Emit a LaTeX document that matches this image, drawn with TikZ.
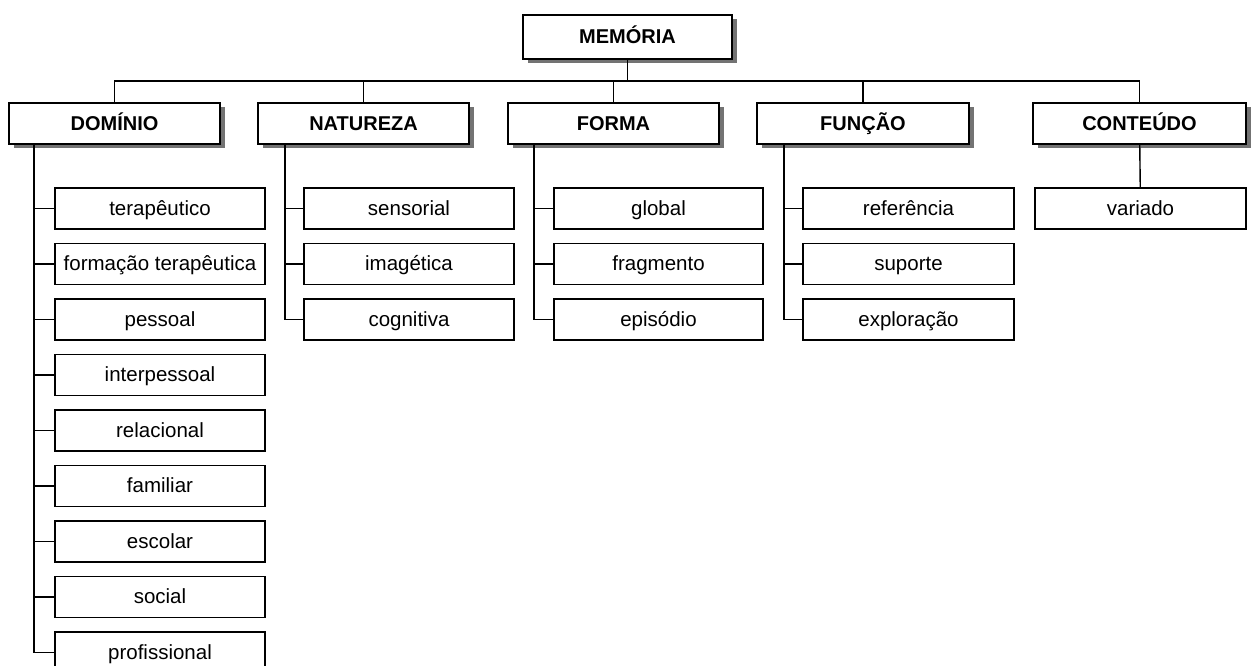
\documentclass[tikz,border=0pt]{standalone}
\usepackage{fontspec}
\setmainfont{Liberation Sans}
\usetikzlibrary{fit,shadows}

\tikzset{
    head/.style={draw, line width=1.4pt, fill=white, inner sep=0pt,
        drop shadow={shadow xshift=5pt, shadow yshift=-4pt, fill=black!55, opacity=1}},
    item/.style={draw, line width=1.4pt, fill=white, inner sep=0pt},
    htext/.style={font=\bfseries\fontsize{20}{24}\selectfont, text height=17pt, text depth=4pt},
    itext/.style={font=\fontsize{20.5}{24}\selectfont, text height=17pt, text depth=4pt},
    link/.style={line width=1.4pt}
}

\begin{document}
\begin{tikzpicture}[x=1pt, y=-1pt]
    \useasboundingbox (0,0) rectangle (1253,665);

    \node[head, fit={(523,15) (732,59)}, label={[htext]center:{MEMÓRIA}}] (mem) {};

    \node[head, fit={(9,103) (220,144)}, label={[htext]center:{DOMÍNIO}}] (dom) {};
    \node[head, fit={(258,103) (469,144)}, label={[htext]center:{NATUREZA}}] (nat) {};
    \node[head, fit={(508,103) (719,144)}, label={[htext]center:{FORMA}}] (for) {};
    \node[head, fit={(757,103) (969,144)}, label={[htext]center:{FUNÇÃO}}] (fun) {};
    \node[head, fit={(1033,103) (1246,144)}, label={[htext]center:{CONTEÚDO}}] (con) {};

    \node[item, fit={(55,188) (265,229)}, label={[itext]center:{terapêutico}}] (dom1) {};
    \node[item, fit={(55,243.5) (265,284.5)}, label={[itext]center:{formação terapêutica}}] (dom2) {};
    \node[item, fit={(55,299) (265,340)}, label={[itext]center:{pessoal}}] (dom3) {};
    \node[item, fit={(55,354.5) (265,395.5)}, label={[itext]center:{interpessoal}}] (dom4) {};
    \node[item, fit={(55,410) (265,451)}, label={[itext]center:{relacional}}] (dom5) {};
    \node[item, fit={(55,465.5) (265,506.5)}, label={[itext]center:{familiar}}] (dom6) {};
    \node[item, fit={(55,521) (265,562)}, label={[itext]center:{escolar}}] (dom7) {};
    \node[item, fit={(55,576.5) (265,617.5)}, label={[itext]center:{social}}] (dom8) {};
    \node[item, fit={(55,632) (265,673)}, label={[itext]center:{profissional}}] (dom9) {};

    \node[item, fit={(304,188) (514,229)}, label={[itext]center:{sensorial}}] (nat1) {};
    \node[item, fit={(304,243.5) (514,284.5)}, label={[itext]center:{imagética}}] (nat2) {};
    \node[item, fit={(304,299) (514,340)}, label={[itext]center:{cognitiva}}] (nat3) {};

    \node[item, fit={(554,188) (763,229)}, label={[itext]center:{global}}] (for1) {};
    \node[item, fit={(554,243.5) (763,284.5)}, label={[itext]center:{fragmento}}] (for2) {};
    \node[item, fit={(554,299) (763,340)}, label={[itext]center:{episódio}}] (for3) {};

    \node[item, fit={(803,188) (1014,229)}, label={[itext]center:{referência}}] (fun1) {};
    \node[item, fit={(803,243.5) (1014,284.5)}, label={[itext]center:{suporte}}] (fun2) {};
    \node[item, fit={(803,299) (1014,340)}, label={[itext]center:{exploração}}] (fun3) {};

    \node[item, fit={(1035,188) (1246,229)}, label={[itext]center:{variado}}] (con1) {};

    % top level
    \coordinate (bus) at (627.5,81);
    \draw[link] (mem.south) -- (bus);
    \draw[link] (dom.north) |- (bus) -| (con.north);
    \draw[link] (nat.north) -- (nat.north |- bus);
    \draw[link] (for.north) -- (for.north |- bus);
    \draw[link] (fun.north) -- (fun.north |- bus);

    % trunks
    \coordinate (domt) at (34,144);
    \coordinate (natt) at (285,144);
    \coordinate (fort) at (534,144);
    \coordinate (funt) at (784,144);

    \draw[link] (domt) |- (dom1.west);
    \draw[link] (domt) |- (dom2.west);
    \draw[link] (domt) |- (dom3.west);
    \draw[link] (domt) |- (dom4.west);
    \draw[link] (domt) |- (dom5.west);
    \draw[link] (domt) |- (dom6.west);
    \draw[link] (domt) |- (dom7.west);
    \draw[link] (domt) |- (dom8.west);
    \draw[link] (domt) |- (dom9.west);

    \draw[link] (natt) |- (nat1.west);
    \draw[link] (natt) |- (nat2.west);
    \draw[link] (natt) |- (nat3.west);

    \draw[link] (fort) |- (for1.west);
    \draw[link] (fort) |- (for2.west);
    \draw[link] (fort) |- (for3.west);

    \draw[link] (funt) |- (fun1.west);
    \draw[link] (funt) |- (fun2.west);
    \draw[link] (funt) |- (fun3.west);

    \draw[link] (con) -- (con1);
\end{tikzpicture}
\end{document}
